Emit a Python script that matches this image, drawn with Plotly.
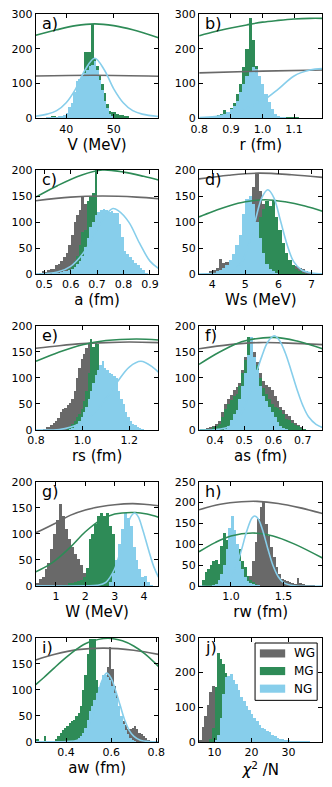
import plotly.graph_objects as go

GROUPS = ["WG", "MG", "NG"]
COLORS = {"WG": "#696969", "MG": "#2e8b57", "NG": "#87ceeb"}

PANEL_LABELS = ["a)", "b)", "c)", "d)", "e)", "f)", "g)", "h)", "i)", "j)"]
X_TITLES = ["V (MeV)", "r (fm)", "a (fm)", "Ws (MeV)", "rs (fm)", "as (fm)",
            "W (MeV)", "rw (fm)", "aw (fm)", "<i>χ</i><sup>2</sup> /N"]
X_RANGES = [[33.6, 59.4], [0.799, 1.19], [0.468, 0.932], [3.6, 7.33], [0.799, 1.325],
            [0.345, 0.767], [0.31, 4.49], [0.697, 1.87], [0.265, 0.81], [5.8, 39.2]]
X_TICKS = [[40, 50], [0.8, 0.9, 1.0, 1.1], [0.5, 0.6, 0.7, 0.8, 0.9], [4, 5, 6, 7],
           [0.8, 1.0, 1.2], [0.4, 0.5, 0.6, 0.7], [1, 2, 3, 4], [1.0, 1.5],
           [0.4, 0.6, 0.8], [10, 20, 30]]
X_FORMATS = ["d", ".1f", ".1f", "d", ".1f", ".1f", "d", ".1f", ".1f", "d"]
Y_MAX = [300, 300, 200, 200, 200, 200, 200, 250, 200, 300]
Y_STEP = [100, 100, 50, 50, 50, 50, 50, 50, 50, 100]

# histogram bins per panel: first edge and bin width
BIN_EDGE0 = [35.6, 0.806, 0.48, 3.8, 0.83, 0.35, 0.3, 0.7, 0.26, 5.8]
BIN_WIDTH = [0.533, 0.01, 0.01, 0.1, 0.01, 0.01, 0.1, 0.025, 0.01, 0.7]

# a) V
A_WG = []
A_MG = [4, 4, 5, 5, 4, 5, 5, 4, 5, 6, 10, 20, 40, 80, 115, 191, 191, 191, 272, 170,
        150, 121, 97, 72, 40, 22, 17, 17, 12, 8, 8, 6, 5]
A_NG = [2, 2, 3, 3, 4, 5, 6, 8, 15, 31, 45, 76, 108, 114, 121, 130, 140, 149, 154, 165,
        140, 110, 80, 50, 28, 12, 5]
# b) r
B_WG = []
B_MG = [1, 1, 2, 3, 5, 8, 12, 24, 18, 30, 45, 69, 98, 146, 198, 288, 225, 150, 90, 50,
        25, 15, 8, 6, 5, 4, 3, 3, 2, 2, 1]
B_NG = [1, 1, 2, 3, 4, 6, 8, 12, 17, 25, 35, 50, 74, 98, 122, 136, 146, 141, 122, 98,
        69, 46, 27, 12, 5, 3, 2]
# c) a
C_WG = [3, 5, 4, 8, 10, 10, 18, 20, 26, 32, 40, 55, 75, 100, 113, 123, 150, 135, 110, 80,
        50, 30, 15, 8, 4]
C_MG = [0, 0, 0, 0, 0, 0, 0, 0, 2, 4, 6, 10, 15, 25, 35, 55, 80, 85, 140, 150,
        155, 200, 110, 60, 30, 15, 8, 4, 2]
C_NG = [0, 0, 0, 0, 0, 1, 2, 3, 4, 5, 6, 8, 10, 13, 20, 26, 35, 52, 70, 90,
        100, 113, 120, 123, 126, 124, 120, 122, 118, 118, 97, 71, 45, 38, 32, 28, 22, 18, 12, 7, 3]
# d) Ws
D_WG = [3, 6, 8, 12, 29, 22, 24, 28, 35, 45, 60, 80, 105, 135, 167, 194, 160, 135, 120, 100,
        80, 60, 45, 30, 22, 19, 17, 15, 12, 9, 5, 2]
D_MG = [0, 0, 0, 0, 0, 0, 0, 0, 0, 0, 0, 0, 20, 40, 60, 80, 110, 125, 140, 130,
        140, 110, 85, 60, 40, 28, 18, 10, 5, 2]
D_NG = [0, 0, 3, 5, 8, 11, 18, 28, 38, 55, 75, 115, 145, 150, 135, 100, 70, 40, 20, 10,
        5, 2]
# e) rs
E_WG = [2, 5, 6, 10, 13, 18, 24, 35, 40, 42, 48, 52, 60, 75, 100, 120, 137, 146, 158, 165,
        150, 120, 90, 60, 40, 25, 12, 5]
E_MG = [0, 0, 0, 0, 0, 0, 0, 0, 0, 0, 5, 8, 12, 18, 25, 30, 40, 55, 75, 110,
        175, 160, 168, 165, 100, 60, 30, 15, 6, 2]
E_NG = [0, 0, 0, 0, 0, 0, 0, 0, 0, 0, 0, 2, 4, 8, 12, 18, 25, 35, 45, 60,
        75, 90, 105, 115, 125, 133, 120, 115, 110, 108, 104, 100, 76, 60, 50, 35, 25, 18, 12, 9,
        6, 4, 2]
# f) as
F_WG = [2, 3, 4, 6, 8, 12, 18, 35, 50, 60, 68, 78, 82, 90, 115, 140, 165, 175, 150, 130,
        110, 95, 86, 82, 77, 65, 55, 45, 38, 30, 27, 20, 14, 10, 6, 3]
F_MG = [1, 1, 2, 3, 5, 8, 12, 25, 40, 50, 58, 65, 70, 85, 110, 135, 178, 160, 140, 125,
        100, 80, 70, 60, 50, 45, 42, 39, 30, 22, 20, 14, 10, 7, 4, 2]
F_NG = [0, 0, 0, 0, 0, 0, 0, 0, 3, 8, 20, 30, 39, 60, 85, 110, 145, 178, 140, 115,
        85, 65, 55, 45, 35, 25, 15, 8, 4, 2]
# g) W
G_WG = [5, 14, 18, 33, 45, 71, 100, 127, 158, 135, 110, 90, 75, 62, 52, 40, 25, 14, 8, 4, 2]
G_MG = [0, 0, 0, 0, 0, 0, 0, 0, 0, 2, 3, 5, 6, 8, 10, 12, 17, 35, 90, 100,
        120, 135, 140, 135, 140, 115, 100, 30, 12, 5, 2]
G_NG = [0, 0, 0, 0, 0, 0, 0, 0, 0, 0, 0, 0, 0, 0, 0, 0, 0, 0, 0, 0,
        0, 0, 0, 0, 0, 8, 25, 50, 80, 110, 140, 130, 115, 75, 50, 33, 18, 20, 8, 2]
# h) rw
H_WG = [0, 0, 0, 0, 0, 0, 0, 0, 0, 0, 0, 0, 0, 0, 0, 0, 2, 5, 15, 25,
        60, 105, 160, 191, 203, 150, 120, 95, 70, 45, 28, 18, 15, 12, 10, 8, 6, 20, 8, 5,
        3, 3, 2, 1]
H_MG = [0, 15, 34, 40, 50, 60, 62, 54, 97, 128, 110, 100, 95, 90, 89, 89, 60, 45, 25, 15,
        10, 6, 3]
H_NG = [0, 0, 0, 0, 0, 2, 6, 15, 30, 50, 90, 140, 168, 135, 100, 60, 40, 22, 12, 8,
        5, 3, 1]
# i) aw
I_WG = [0, 0, 0, 0, 0, 0, 0, 0, 0, 0, 0, 0, 0, 0, 0, 0, 0, 0, 0, 5,
        10, 15, 25, 40, 55, 65, 75, 85, 95, 100, 107, 125, 145, 183, 140, 107, 90, 70, 50, 40,
        32, 25, 25, 28, 30, 25, 18, 15, 12, 8, 4]
I_MG = [5, 5, 0, 3, 11, 3, 0, 2, 3, 6, 11, 18, 24, 28, 30, 37, 40, 43, 50, 55,
        69, 100, 129, 170, 199, 199, 199, 120, 80, 60, 40, 25, 15, 8, 4, 2]
I_NG = [0, 0, 0, 0, 0, 0, 0, 0, 0, 0, 0, 0, 0, 0, 0, 0, 0, 2, 4, 8,
        12, 18, 28, 43, 60, 70, 80, 94, 105, 113, 129, 129, 126, 120, 107, 95, 85, 69, 50, 35,
        24, 15, 8, 4, 2]
# j) chi2/N
J_WG = [5, 45, 74, 107, 144, 163, 150, 120, 80, 50, 25, 10, 4]
J_MG = [0, 0, 0, 0, 10, 40, 160, 257, 240, 225, 200, 160, 110, 70, 40, 20, 10, 5, 2]
J_NG = [0, 0, 0, 0, 0, 0, 5, 20, 70, 140, 187, 190, 196, 180, 168, 149, 130, 118, 105, 92,
        80, 70, 60, 48, 42, 38, 33, 28, 22, 17, 13, 10, 8, 6, 5, 4, 3, 2, 2, 1,
        1, 1, 1]

# smooth curves, (x, y) points
A_WG_CURVE = [(33.6, 122), (46, 124), (59.4, 121)]
A_MG_CURVE = [(33.6, 239), (38, 255), (42, 267), (46, 272), (50, 267), (54, 255), (59.4, 232)]
A_NG_CURVE = [(33.6, 6), (36, 12), (38, 22), (40, 45), (42, 85), (44, 140), (46, 173),
              (48, 140), (50, 85), (52, 45), (54, 22), (56, 12), (59.4, 5)]
B_WG_CURVE = [(0.8, 131), (1.0, 136), (1.19, 139)]
B_MG_CURVE = [(0.8, 238), (0.85, 250), (0.9, 260), (0.95, 269), (1.0, 277), (1.05, 282),
              (1.1, 286), (1.15, 288), (1.19, 288)]
B_NG_CURVE = [(0.8, 2), (0.85, 5), (0.9, 14), (0.95, 30), (1.0, 50), (1.05, 84),
              (1.1, 122), (1.15, 139), (1.19, 143)]
C_WG_CURVE = [(0.468, 141), (0.6, 148), (0.72, 150), (0.85, 148), (0.932, 145)]
C_MG_CURVE = [(0.468, 148), (0.55, 170), (0.64, 190), (0.72, 200), (0.8, 196),
              (0.876, 188), (0.932, 181)]
C_NG_CURVE = [(0.468, 0), (0.55, 4), (0.6, 15), (0.65, 42), (0.7, 85), (0.74, 118),
              (0.76, 126), (0.78, 122), (0.82, 100), (0.86, 60), (0.9, 25), (0.932, 11)]
D_WG_CURVE = [(3.6, 183), (4.5, 190), (5.4, 194), (6.4, 191), (7.33, 186)]
D_MG_CURVE = [(3.6, 110), (4.0, 120), (4.5, 131), (5.0, 139), (5.6, 143), (6.2, 139),
              (6.8, 131), (7.33, 121)]
D_NG_CURVE = [(3.6, 0), (4.1, 1), (4.5, 2), (4.9, 24), (5.1, 57), (5.3, 103), (5.5, 147),
              (5.68, 162), (5.86, 147), (6.06, 103), (6.26, 57), (6.46, 24), (6.7, 8),
              (7.0, 2), (7.33, 0.5)]
E_WG_CURVE = [(0.8, 157), (0.9, 162), (1.0, 166), (1.1, 168), (1.2, 169), (1.325, 168)]
E_MG_CURVE = [(0.8, 132), (0.9, 150), (1.0, 164), (1.1, 172), (1.23, 175), (1.325, 173)]
E_NG_CURVE = [(0.8, 0.1), (0.9, 1), (0.95, 6), (1.0, 15), (1.05, 33), (1.1, 60), (1.15, 93),
              (1.2, 121), (1.25, 132), (1.3, 121), (1.325, 111)]
F_WG_CURVE = [(0.345, 156), (0.45, 164), (0.55, 168), (0.65, 167), (0.767, 164)]
F_MG_CURVE = [(0.345, 126), (0.4, 145), (0.45, 160), (0.5, 171), (0.6, 178), (0.68, 171),
              (0.767, 156)]
F_NG_CURVE = [(0.345, 0), (0.4, 0.6), (0.45, 7), (0.48, 23), (0.5, 44), (0.52, 73),
              (0.54, 108), (0.56, 142), (0.58, 169), (0.602, 181), (0.62, 172), (0.64, 148),
              (0.66, 114), (0.68, 78), (0.7, 47), (0.72, 25), (0.745, 11), (0.767, 5)]
G_WG_CURVE = [(0.31, 102), (1.0, 121), (1.5, 136), (2.0, 146), (2.5, 152), (3.0, 156),
              (3.6, 158), (4.0, 157), (4.49, 154)]
G_MG_CURVE = [(0.31, 27), (0.75, 40), (1.0, 50), (1.5, 75), (2.0, 104), (2.5, 126),
              (3.0, 138), (3.7, 141), (4.1, 138), (4.49, 132)]
G_NG_CURVE = [(0.31, 0), (2.0, 0), (2.4, 1), (2.7, 7), (3.0, 33), (3.2, 68), (3.4, 109),
              (3.55, 133), (3.68, 140), (3.8, 133), (3.95, 109), (4.16, 68), (4.33, 37),
              (4.49, 17)]
H_WG_CURVE = [(0.697, 183), (0.9, 196), (1.1, 202), (1.25, 203), (1.45, 198), (1.65, 188),
              (1.87, 174)]
H_MG_CURVE = [(0.697, 82), (0.85, 104), (1.0, 120), (1.21, 127), (1.4, 120), (1.6, 101),
              (1.87, 67)]
H_NG_CURVE = [(0.697, 0), (0.9, 0.2), (0.95, 7), (1.0, 20), (1.05, 46), (1.1, 86),
              (1.15, 131), (1.2, 163), (1.227, 168), (1.26, 161), (1.3, 135), (1.35, 90),
              (1.4, 49), (1.45, 22), (1.5, 8), (1.6, 0.5), (1.87, 0)]
I_WG_CURVE = [(0.265, 157), (0.35, 168), (0.45, 177), (0.57, 180), (0.7, 176), (0.81, 168)]
I_MG_CURVE = [(0.265, 110), (0.3, 123), (0.35, 143), (0.4, 162), (0.45, 179), (0.5, 191),
              (0.585, 199), (0.65, 194), (0.7, 184), (0.75, 169), (0.81, 145)]
I_NG_CURVE = [(0.265, 0), (0.4, 0.5), (0.45, 3), (0.48, 12), (0.5, 30), (0.52, 55),
              (0.54, 88), (0.56, 118), (0.58, 132), (0.6, 122), (0.62, 98), (0.64, 70),
              (0.66, 42), (0.68, 22), (0.7, 11), (0.73, 3), (0.81, 0)]

HISTS = [
    (A_WG, A_MG, A_NG), (B_WG, B_MG, B_NG), (C_WG, C_MG, C_NG), (D_WG, D_MG, D_NG),
    (E_WG, E_MG, E_NG), (F_WG, F_MG, F_NG), (G_WG, G_MG, G_NG), (H_WG, H_MG, H_NG),
    (I_WG, I_MG, I_NG), (J_WG, J_MG, J_NG),
]
CURVES = [
    (A_WG_CURVE, A_MG_CURVE, A_NG_CURVE), (B_WG_CURVE, B_MG_CURVE, B_NG_CURVE),
    (C_WG_CURVE, C_MG_CURVE, C_NG_CURVE), (D_WG_CURVE, D_MG_CURVE, D_NG_CURVE),
    (E_WG_CURVE, E_MG_CURVE, E_NG_CURVE), (F_WG_CURVE, F_MG_CURVE, F_NG_CURVE),
    (G_WG_CURVE, G_MG_CURVE, G_NG_CURVE), (H_WG_CURVE, H_MG_CURVE, H_NG_CURVE),
    (I_WG_CURVE, I_MG_CURVE, I_NG_CURVE), None,
]

W, H = 332, 787
FONT = "DejaVu Sans"
COL_X = [(28, 156.5), (199, 328.3)]
ROW_TOP0, ROW_STEP, ROW_H = 8.3, 158.5, 106

fig = go.Figure()
layout = {}

for i in range(10):
    row, col = divmod(i, 2)
    ax = "" if i == 0 else str(i + 1)
    xref, yref = "x" + ax, "y" + ax
    x_left, x_right = COL_X[col]
    top = ROW_TOP0 + ROW_STEP * row
    bottom = top + ROW_H

    # histograms, drawn gray, green, blue
    for g, counts in zip(GROUPS, HISTS[i]):
        if not counts:
            continue
        w = BIN_WIDTH[i]
        fig.add_trace(go.Bar(
            y=counts, x0=BIN_EDGE0[i] + w / 2, dx=w, width=w,
            marker=dict(color=COLORS[g], line=dict(width=0)),
            xaxis=xref, yaxis=yref, showlegend=False, hoverinfo="skip",
        ))

    # prior curves on top
    if CURVES[i]:
        for g, pts in zip(GROUPS, CURVES[i]):
            fig.add_trace(go.Scatter(
                x=[p[0] for p in pts], y=[p[1] for p in pts], mode="lines",
                line=dict(color=COLORS[g], width=1.6, shape="spline", smoothing=1.0),
                xaxis=xref, yaxis=yref, showlegend=False, hoverinfo="skip",
            ))

    common = dict(
        showline=True, linecolor="black", linewidth=1, mirror="ticks",
        ticks="inside", ticklen=4, tickcolor="black", tickwidth=1,
        showgrid=False, zeroline=False,
        tickfont=dict(family=FONT, size=11, color="black"),
    )
    layout["xaxis" + ax] = dict(
        common, domain=[x_left / W, x_right / W], anchor=yref,
        range=X_RANGES[i], tickvals=X_TICKS[i], tickformat=X_FORMATS[i],
        title=dict(text=X_TITLES[i], font=dict(family=FONT, size=15, color="black"), standoff=2),
    )
    y_ticks = list(range(0, Y_MAX[i] + 1, Y_STEP[i]))
    layout["yaxis" + ax] = dict(
        common, domain=[1 - bottom / H, 1 - top / H], anchor=xref,
        range=[-0.3, Y_MAX[i]], tickvals=y_ticks,
    )

    fig.add_annotation(
        text=PANEL_LABELS[i], xref=xref + " domain", yref=yref + " domain",
        x=0.035, y=1.02, xanchor="left", yanchor="top", showarrow=False,
        font=dict(family=FONT, size=16, color="black"),
    )

# legend inside panel j)
fig.add_shape(type="rect", xref="x10 domain", yref="y10 domain",
              x0=0.454, x1=0.957, y0=0.399, y1=0.949,
              line=dict(color="black", width=1), fillcolor="white")
for k, g in enumerate(GROUPS):
    yc = 0.849 - k * 0.169
    fig.add_shape(type="rect", xref="x10 domain", yref="y10 domain",
                  x0=0.493, x1=0.698, y0=yc - 0.039, y1=yc + 0.039,
                  line=dict(width=0), fillcolor=COLORS[g])
    fig.add_annotation(text=g, xref="x10 domain", yref="y10 domain", x=0.75, y=yc,
                       xanchor="left", yanchor="middle", showarrow=False,
                       font=dict(family=FONT, size=12, color="black"))

fig.update_layout(
    width=W, height=H,
    margin=dict(l=0, r=0, t=0, b=0),
    paper_bgcolor="white", plot_bgcolor="white",
    barmode="overlay", bargap=0,
    font=dict(family=FONT, color="black"),
    showlegend=False,
    **layout,
)

# the page body has a default 8px margin; drop it so the figure sits at the window corner
fig.write_html(
    "out.html",
    config={"displayModeBar": False},
    post_script="document.body.style.margin = '0';",
)
